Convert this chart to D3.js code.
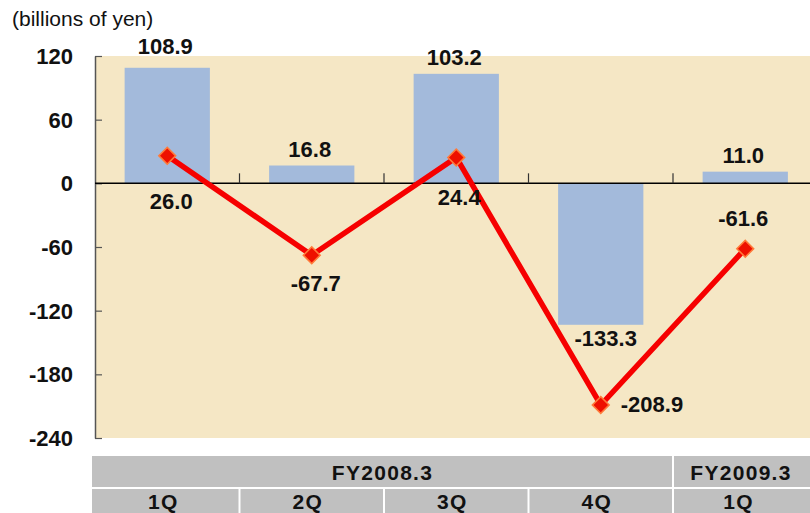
<!DOCTYPE html>
<html>
<head>
<meta charset="utf-8">
<script src="https://cdn.jsdelivr.net/npm/d3@7"></script>
<style>
  body { margin: 0; background: #fff; }
  svg { display: block; font-family: "Liberation Sans", Arial, sans-serif; }
</style>
</head>
<body>
<div id="chart"></div>
<script>
// quarters and the fiscal year groups under them
var quarters = ["1Q", "2Q", "3Q", "4Q", "1Q "];
var quarterLabels = ["1Q", "2Q", "3Q", "4Q", "1Q"];
var fiscalYears = ["FY2008.3", "FY2009.3"];
var fiscalSpan = [4, 1];

// bar series and line series (billions of yen)
var barValues = [108.9, 16.8, 103.2, -133.3, 11.0];
var lineValues = [26.0, -67.7, 24.4, -208.9, -61.6];

var yTicks = [120, 60, 0, -60, -120, -180, -240];

// where the line labels sit relative to their point
var lineLabelPlace = [
  { dx: 4, dy: 53, anchor: "middle" },
  { dx: 4, dy: 36, anchor: "middle" },
  { dx: 3, dy: 48, anchor: "middle" },
  { dx: 20, dy: 7, anchor: "start" },
  { dx: -2, dy: -23, anchor: "middle" }
];

(function () {
  var width = 810,
    height = 513;
  var plotLeft = 95, plotTop = 56, plotBottom = 438;
  var labelSize = 22;

  var svg = d3.select("#chart")
    .append("svg")
    .attr("width", width)
    .attr("height", height);

  var x = d3.scaleBand()
    .domain(quarters)
    .range([plotLeft, 817.5])
    .paddingInner(0.41)
    .paddingOuter(0.205);

  var y = d3.scaleLinear()
    .domain([-240, 120])
    .range([plotBottom, plotTop]);

  // title
  svg.append("text")
    .attr("x", 12)
    .attr("y", 26)
    .attr("font-size", 21)
    .attr("fill", "#111")
    .text("(billions of yen)");

  // plot background
  svg.append("rect")
    .attr("x", plotLeft)
    .attr("y", plotTop)
    .attr("width", width - plotLeft)
    .attr("height", plotBottom - plotTop)
    .attr("fill", "#f5e7c5");

  // bars
  svg.selectAll(".bar")
    .data(barValues)
    .enter().append("rect")
    .attr("class", "bar")
    .attr("x", function (d, i) { return x(quarters[i]); })
    .attr("width", x.bandwidth())
    .attr("y", function (d) { return y(Math.max(0, d)); })
    .attr("height", function (d) { return Math.abs(y(d) - y(0)); })
    .attr("fill", "#a3badb");

  // y axis
  var yAxis = svg.append("g")
    .attr("transform", "translate(" + plotLeft + ",0)")
    .call(d3.axisRight(y).tickValues(yTicks).tickSize(7).tickSizeOuter(0).tickFormat(""));
  yAxis.select(".domain").attr("stroke", "#555").attr("stroke-width", 1.5);
  yAxis.selectAll(".tick line").attr("stroke", "#555").attr("stroke-width", 1.2);

  svg.selectAll(".ylab")
    .data(yTicks)
    .enter().append("text")
    .attr("class", "ylab")
    .attr("x", 73)
    .attr("y", function (d) { return y(d) + 8; })
    .attr("text-anchor", "end")
    .attr("font-size", labelSize)
    .attr("font-weight", "bold")
    .attr("fill", "#111")
    .text(function (d) { return d; });

  // zero line with category ticks
  var boundaries = quarters.slice(1).map(function (q) {
    return x(q) - x.step() * x.paddingInner() / 2;
  });
  svg.append("line")
    .attr("x1", plotLeft).attr("x2", width)
    .attr("y1", y(0)).attr("y2", y(0))
    .attr("stroke", "#000")
    .attr("stroke-width", 1.5);
  svg.selectAll(".ztick")
    .data(boundaries)
    .enter().append("line")
    .attr("class", "ztick")
    .attr("x1", function (d) { return d; })
    .attr("x2", function (d) { return d; })
    .attr("y1", y(0))
    .attr("y2", y(0) - 10)
    .attr("stroke", "#333")
    .attr("stroke-width", 1.2);

  // line series
  var cx = function (d, i) { return x(quarters[i]) + x.bandwidth() / 2; };
  var line = d3.line()
    .x(cx)
    .y(function (d) { return y(d); });

  svg.append("path")
    .datum(lineValues)
    .attr("d", line)
    .attr("fill", "none")
    .attr("stroke", "#f60000")
    .attr("stroke-width", 5.5);

  svg.selectAll(".marker")
    .data(lineValues)
    .enter().append("path")
    .attr("class", "marker")
    .attr("d", d3.symbol().type(d3.symbolSquare).size(140))
    .attr("transform", function (d, i) {
      return "translate(" + cx(d, i) + "," + y(d) + ") rotate(45)";
    })
    .attr("fill", "#ee1000")
    .attr("stroke", "#ff7a3a")
    .attr("stroke-width", 1.6);

  // bar labels
  svg.selectAll(".blab")
    .data(barValues)
    .enter().append("text")
    .attr("class", "blab")
    .attr("x", function (d, i) { return cx(d, i) + (d < 0 ? 5 : -2); })
    .attr("y", function (d, i) { return d >= 0 ? y(d) - (i === 0 ? 14 : 9) : y(d) + 21; })
    .attr("text-anchor", "middle")
    .attr("font-size", labelSize)
    .attr("font-weight", "bold")
    .attr("fill", "#111")
    .text(function (d) { return d.toFixed(1); });

  // line labels
  svg.selectAll(".llab")
    .data(lineValues)
    .enter().append("text")
    .attr("class", "llab")
    .attr("x", function (d, i) { return cx(d, i) + lineLabelPlace[i].dx; })
    .attr("y", function (d, i) { return y(d) + lineLabelPlace[i].dy; })
    .attr("text-anchor", function (d, i) { return lineLabelPlace[i].anchor; })
    .attr("font-size", labelSize)
    .attr("font-weight", "bold")
    .attr("fill", "#111")
    .text(function (d) { return d.toFixed(1); });

  // category table under the chart
  var edges = [92].concat(boundaries).concat([width + 5]);
  var row1 = 456, row1h = 31, row2 = 489, row2h = 30;

  var spans = [];
  var start = 0;
  fiscalYears.forEach(function (fy, k) {
    spans.push({ label: fy, x0: edges[start], x1: edges[start + fiscalSpan[k]] });
    start += fiscalSpan[k];
  });

  svg.selectAll(".fycell")
    .data(spans)
    .enter().append("rect")
    .attr("class", "fycell")
    .attr("x", function (d, i) { return i === 0 ? d.x0 : d.x0 + 1; })
    .attr("width", function (d) { return d.x1 - d.x0 - 1; })
    .attr("y", row1)
    .attr("height", row1h)
    .attr("fill", "#c0c0c0");

  svg.selectAll(".fytext")
    .data(spans)
    .enter().append("text")
    .attr("class", "fytext")
    .attr("x", function (d, i) { return i === 0 ? (d.x0 + d.x1) / 2 : 741; })
    .attr("y", row1 + 24)
    .attr("text-anchor", "middle")
    .attr("font-size", 21)
    .attr("font-weight", "bold")
    .attr("letter-spacing", 1.3)
    .attr("fill", "#111")
    .text(function (d) { return d.label; });

  svg.selectAll(".qcell")
    .data(quarterLabels)
    .enter().append("rect")
    .attr("class", "qcell")
    .attr("x", function (d, i) { return i === 0 ? edges[i] : edges[i] + 1; })
    .attr("width", function (d, i) { return edges[i + 1] - edges[i] - (i === 0 ? 1 : 2); })
    .attr("y", row2)
    .attr("height", row2h)
    .attr("fill", "#c0c0c0");

  svg.selectAll(".qtext")
    .data(quarterLabels)
    .enter().append("text")
    .attr("class", "qtext")
    .attr("x", function (d, i) { return (Math.max(edges[i], plotLeft) + Math.min(edges[i + 1], width + 2)) / 2 - 4; })
    .attr("y", row2 + 20)
    .attr("text-anchor", "middle")
    .attr("font-size", 21)
    .attr("font-weight", "bold")
    .attr("letter-spacing", 1.2)
    .attr("fill", "#111")
    .text(function (d) { return d; });
})();
</script>
</body>
</html>
